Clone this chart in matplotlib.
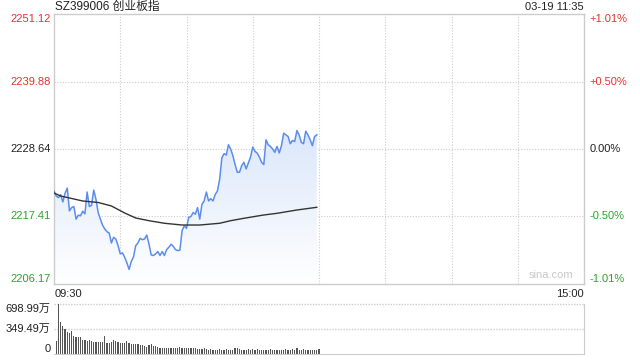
import matplotlib
matplotlib.use("Agg")
import matplotlib.pyplot as plt
import matplotlib.transforms as mtransforms
from matplotlib.patches import Polygon
import numpy as np

plt.rcParams['font.family'] = ['Liberation Sans', 'Noto Sans CJK SC', 'DejaVu Sans']

# 分时数据 (09:30 起每分钟)
price = [2221.64, 2220.82, 2220.54, 2221.04, 2219.83, 2221.26, 2222.14, 2218.34, 2218.89, 2219.06,
         2216.97, 2217.63, 2217.52, 2218.29, 2217.85, 2221.48, 2219.06, 2219.28, 2221.81, 2220.27,
         2218.07, 2216.97, 2215.97, 2215.31, 2214.87, 2214.65, 2213.00, 2213.94, 2213.66, 2212.56,
         2211.18, 2211.35, 2210.63, 2209.70, 2208.60, 2209.92, 2210.69, 2212.56, 2213.00, 2213.77,
         2213.55, 2213.66, 2214.32, 2212.84, 2211.02, 2210.91, 2211.18, 2211.57, 2210.91, 2211.57,
         2210.91, 2211.90, 2212.29, 2212.78, 2212.45, 2211.90, 2211.74, 2211.79, 2215.04, 2215.86,
         2215.42, 2217.24, 2217.41, 2218.07, 2217.79, 2218.89, 2216.97, 2219.44, 2219.99, 2221.48,
         2219.99, 2220.38, 2219.99, 2221.09, 2221.64, 2223.57, 2227.15, 2227.87, 2227.65, 2229.35,
         2228.64, 2227.53, 2226.05, 2224.78, 2224.78, 2225.88, 2226.43, 2225.33, 2226.32, 2227.31,
         2228.97, 2228.25, 2227.98, 2227.31, 2226.43, 2226.05, 2230.18, 2229.35, 2229.08, 2228.64,
         2228.09, 2229.08, 2227.98, 2229.19, 2231.28, 2231.00, 2230.73, 2229.52, 2230.07, 2229.90,
         2231.72, 2231.00, 2229.74, 2229.52, 2231.61, 2231.00, 2230.18, 2229.19, 2230.73, 2231.00]

avg_minute = [0, 3, 7, 13, 20, 26, 32, 37, 43, 50, 58, 66, 75, 80, 86, 95, 101, 110, 119]
avg_price = [2221.32, 2220.82, 2220.49, 2219.99, 2219.74, 2219.16, 2217.99, 2217.16, 2216.71, 2216.28,
             2215.99, 2215.99, 2216.28, 2216.71, 2217.11, 2217.66, 2217.94, 2218.49, 2218.94]

# 成交量 (万)
volume = [177, 699, 443, 387, 350, 303, 294, 317, 247, 238,
          238, 238, 200, 191, 182, 200, 177, 163, 163, 163,
          163, 163, 247, 154, 154, 163, 191, 177, 163, 154,
          154, 154, 177, 154, 145, 145, 145, 145, 126, 126,
          107, 98, 131, 145, 117, 107, 98, 89, 89, 89,
          79, 79, 89, 79, 89, 89, 98, 84, 84, 89,
          84, 89, 89, 79, 70, 70, 70, 79, 70, 61,
          70, 61, 61, 61, 70, 61, 61, 70, 61, 61,
          61, 89, 79, 70, 61, 61, 61, 70, 61, 70,
          61, 70, 61, 61, 61, 61, 61, 70, 61, 61,
          61, 61, 61, 61, 70, 61, 61, 70, 61, 79,
          61, 51, 70, 61, 61, 51, 51, 61, 61, 70]

prev_close = 2228.64
price_ticks = [2251.12, 2239.88, 2228.64, 2217.41, 2206.17]
vol_ticks = [698.99, 349.49, 0]
vol_labels = ['698.99万', '349.49万', '0']
time_labels = ['09:30', '15:00']

RED = '#e8332f'
GREEN = '#2aa52a'
GRID = '#cccccc'
LINE = '#5b8def'

fig = plt.figure(figsize=(6.4, 3.6), dpi=100)
ax = fig.add_axes([54 / 640, 1 - 284 / 360, 530 / 640, 270 / 360])
axv = fig.add_axes([54 / 640, 1 - 354 / 360, 530 / 640, 50 / 360])

x = np.arange(len(price))
ax.set_xlim(0, 240)
ax.set_ylim(price_ticks[-1], price_ticks[0])

# gradient fill under the price line
grad = np.linspace(0, 1, 256).reshape(-1, 1)
cmap = matplotlib.colors.LinearSegmentedColormap.from_list('g', ['#ffffff', '#dbe7fa'])
img = ax.imshow(grad, cmap=cmap, aspect='auto', origin='lower',
                extent=[0, x[-1], price_ticks[-1], max(price)], zorder=1)
verts = [(0, price_ticks[-1])] + list(zip(x, price)) + [(x[-1], price_ticks[-1])]
clip = Polygon(verts, closed=True, facecolor='none', edgecolor='none')
ax.add_patch(clip)
img.set_clip_path(clip)

ax.plot(x, price, color=LINE, lw=1.1, zorder=3)
ax.plot(avg_minute, avg_price, color='#333333', lw=1.0, zorder=3)

for gx in range(30, 240, 30):
    ax.axvline(gx, color=GRID, lw=0.8, ls=(0, (1, 1.5)), zorder=0)
for gy in price_ticks[1:-1]:
    ax.axhline(gy, color=GRID, lw=0.8, ls=(0, (1, 1.5)), zorder=0)

for s in ax.spines.values():
    s.set_color(GRID)
    s.set_linewidth(1)
ax.set_xticks([])
ax.set_yticks([])

trans = mtransforms.blended_transform_factory(ax.transAxes, ax.transData)
colors = [RED, RED, '#222222', GREEN, GREEN]
vas = ['top', 'center', 'center', 'center', 'bottom']
for val, c, va in zip(price_ticks, colors, vas):
    pct = (val - prev_close) / prev_close * 100
    pct_txt = '0.00%' if abs(pct) < 0.005 else '%+.2f%%' % pct
    ax.text(-0.006, val, '%.2f' % val, transform=trans, ha='right', va=va,
            color=c, fontsize=8)
    ax.text(1.011, val, pct_txt, transform=trans, ha='left', va=va, color=c, fontsize=8)

ax.text(0.002, 1 + 7 / 270, 'SZ399006 创业板指', transform=ax.transAxes, ha='left',
        va='center', fontsize=8.5, color='#222222')
ax.text(1.0, 1 + 7 / 270, '03-19 11:35', transform=ax.transAxes, ha='right', va='center',
        fontsize=8, color='#222222')
ax.text(0.98, 0.015, 'sina.com', transform=ax.transAxes, ha='right', va='bottom',
        fontsize=8, color='#c8c8c8')
ax.text(0.002, -0.02, time_labels[0], transform=ax.transAxes, ha='left', va='top',
        fontsize=8, color='#222222')
ax.text(1.0, -0.02, time_labels[1], transform=ax.transAxes, ha='right', va='top',
        fontsize=8, color='#222222')

# volume panel
vx = np.arange(1, len(volume) + 1)
axv.bar(vx, volume, width=0.55, color='#555555', zorder=2)
axv.set_xlim(0, 240)
axv.set_ylim(0, vol_ticks[0])
for gy in vol_ticks[:2]:
    axv.axhline(gy, color=GRID, lw=1.0, ls=(0, (1, 1)), zorder=0, clip_on=False)
for side in ['top', 'left']:
    axv.spines[side].set_visible(False)
for side in ['right', 'bottom']:
    axv.spines[side].set_color(GRID)
axv.set_xticks([])
axv.set_yticks([])
vtrans = mtransforms.blended_transform_factory(axv.transAxes, axv.transData)
for val, lab, va in zip(vol_ticks, vol_labels, ['top', 'center', 'bottom']):
    axv.text(-0.006, val, lab, transform=vtrans, ha='right', va=va, fontsize=8,
             color='#222222')

fig.savefig('out.png', dpi=100)
